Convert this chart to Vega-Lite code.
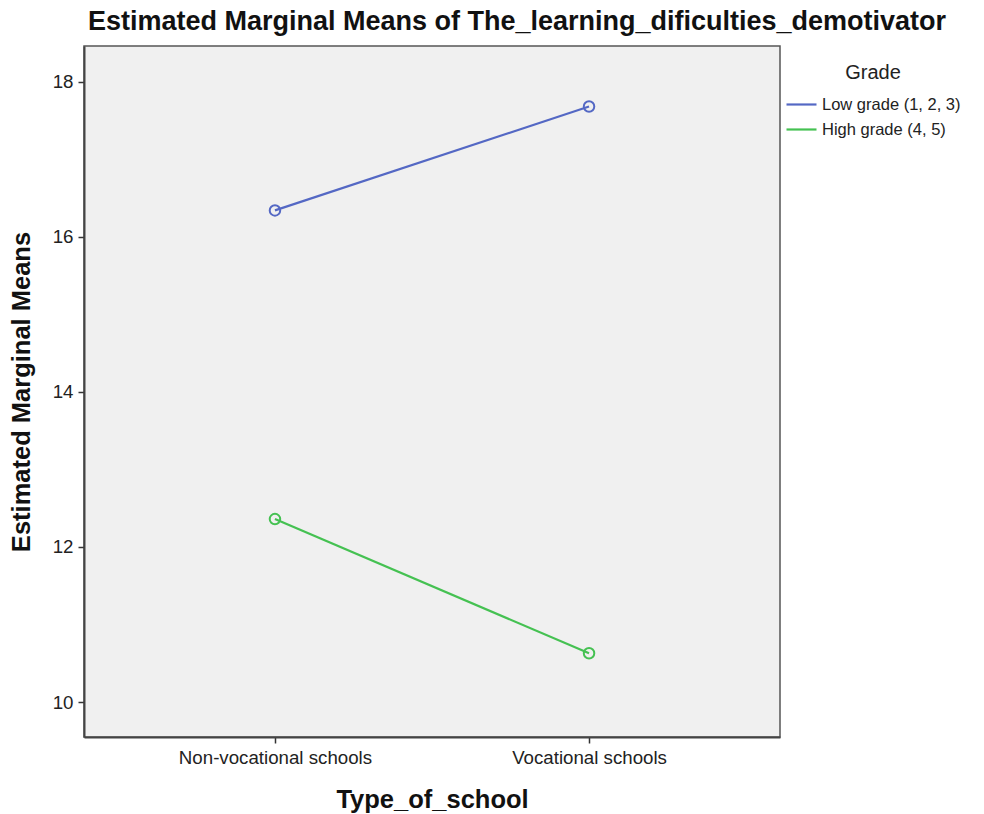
{
  "$schema": "https://vega.github.io/schema/vega-lite/v6.json",
  "width": 696,
  "height": 691,
  "autosize": {"type": "none"},
  "padding": {"left": 84, "top": 46, "right": 204, "bottom": 77},
  "background": "white",
  "title": {
    "text": "Estimated Marginal Means of The_learning_dificulties_demotivator",
    "anchor": "middle",
    "frame": "group",
    "dx": 85,
    "offset": -11,
    "baseline": "alphabetic",
    "fontSize": 27,
    "fontWeight": "bold",
    "font": "Liberation Sans",
    "color": "#111"
  },
  "data": {
    "values": [
      {"school": "Non-vocational schools", "grade": "Low grade (1, 2, 3)", "mean": 16.34},
      {"school": "Vocational schools", "grade": "Low grade (1, 2, 3)", "mean": 17.68},
      {"school": "Non-vocational schools", "grade": "High grade (4, 5)", "mean": 12.36},
      {"school": "Vocational schools", "grade": "High grade (4, 5)", "mean": 10.63}
    ]
  },
  "encoding": {
    "x": {
      "field": "school",
      "type": "nominal",
      "sort": ["Non-vocational schools", "Vocational schools"],
      "scale": {"type": "point", "padding": 0.608},
      "axis": {
        "title": "Type_of_school",
        "labelAngle": 0,
        "labelLimit": 0,
        "labelFontSize": 18.7,
        "labelColor": "#222",
        "labelPadding": 5,
        "tickSize": 6,
        "tickColor": "#333",
        "tickWidth": 1.5,
        "domainColor": "#444",
        "domainWidth": 2,
        "titleFontSize": 25.5,
        "titleFontWeight": "bold",
        "titleColor": "#111",
        "titlePadding": 21
      }
    },
    "y": {
      "field": "mean",
      "type": "quantitative",
      "scale": {"domain": [9.55, 18.46], "nice": false, "zero": false},
      "axis": {
        "title": "Estimated Marginal Means",
        "values": [10, 12, 14, 16, 18],
        "grid": false,
        "labelFontSize": 18.7,
        "labelColor": "#222",
        "labelPadding": 5,
        "tickSize": 6,
        "tickColor": "#333",
        "tickWidth": 1.5,
        "domainColor": "#444",
        "domainWidth": 2,
        "titleFontSize": 25.5,
        "titleFontWeight": "bold",
        "titleColor": "#111",
        "titlePadding": 18
      }
    }
  },
  "layer": [
    {
      "mark": {"type": "line", "strokeWidth": 2.2},
      "encoding": {
        "color": {
          "field": "grade",
          "type": "nominal",
          "scale": {"domain": ["Low grade (1, 2, 3)", "High grade (4, 5)"], "range": ["#5468c4", "#45c152"]},
          "legend": {
            "title": "Grade",
            "orient": "none",
            "legendX": 701,
            "legendY": 17,
            "titleAnchor": "middle",
            "titleFontSize": 20,
            "titleFontWeight": "normal",
            "titleColor": "#222",
            "titlePadding": 5,
            "labelFontSize": 16.5,
            "labelColor": "#222",
            "labelOffset": 4,
            "symbolType": "stroke",
            "symbolSize": 900,
            "symbolStrokeWidth": 2.2,
            "rowPadding": 0
          }
        }
      }
    },
    {
      "mark": {"type": "point", "filled": false, "size": 110, "strokeWidth": 2, "opacity": 1},
      "encoding": {
        "stroke": {
          "field": "grade",
          "type": "nominal",
          "scale": {"domain": ["Low grade (1, 2, 3)", "High grade (4, 5)"], "range": ["#5468c4", "#45c152"]},
          "legend": null
        }
      }
    }
  ],
  "config": {
    "font": "Liberation Sans",
    "view": {"fill": "#f0f0f0", "stroke": "#555", "strokeWidth": 1.5}
  }
}
